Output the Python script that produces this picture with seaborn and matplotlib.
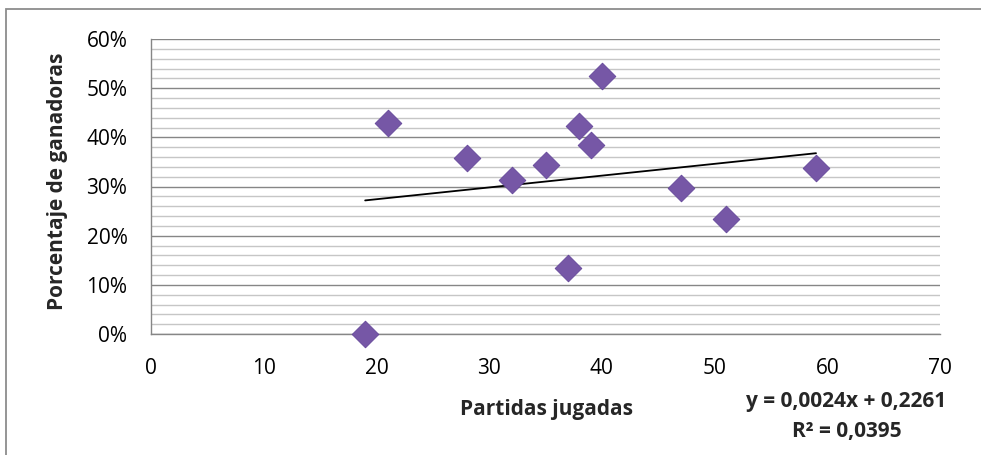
import numpy as np
import pandas as pd
import matplotlib
matplotlib.use("Agg")
import matplotlib.pyplot as plt
from matplotlib.patches import Rectangle
from matplotlib.ticker import MultipleLocator, PercentFormatter
import seaborn as sns

# Data
partidas = [19, 21, 28, 32, 35, 37, 38, 39, 40, 47, 51, 59]
porcentaje = [0.000, 0.429, 0.358, 0.313, 0.344, 0.134, 0.423, 0.384, 0.525, 0.297, 0.233, 0.338]
slope = 0.0024
intercept = 0.2261
r2 = 0.0395
x_ticks = [0, 10, 20, 30, 40, 50, 60, 70]
y_ticks = [0, 0.1, 0.2, 0.3, 0.4, 0.5, 0.6]

df = pd.DataFrame({"Partidas jugadas": partidas, "Porcentaje de ganadoras": porcentaje})

sns.set_style("white")
plt.rcParams["font.family"] = ["Open Sans", "DejaVu Sans"]

W, H = 981, 455
fig = plt.figure(figsize=(W / 100, H / 100), dpi=100)
ax = fig.add_axes([151 / W, 1 - 334 / H, (940 - 151) / W, (334 - 39) / H])

# outer border (only top and left edges fall inside the picture)
fig.patches.append(Rectangle((6 / W, -0.05), 1.2, 1 - 9 / H + 0.05, transform=fig.transFigure,
                             fill=False, edgecolor="#8c8c8c", linewidth=1.3))

# grid
ax.yaxis.set_minor_locator(MultipleLocator(0.02))
ax.grid(which="minor", axis="y", color="#c6c6c6", linewidth=1.0, zorder=0)
ax.grid(which="major", axis="y", color="#868686", linewidth=1.0, zorder=0)
ax.set_axisbelow(True)

# trend line over data range
xs = np.array([min(partidas), max(partidas)])
ax.plot(xs, slope * xs + intercept, color="black", linewidth=1.3, zorder=2)

sns.scatterplot(data=df, x="Partidas jugadas", y="Porcentaje de ganadoras", ax=ax,
                marker="D", s=185, color="#7657a6", edgecolor="#64479a", linewidth=0.6,
                zorder=3, clip_on=False)

ax.set_xlim(0, 70)
ax.set_ylim(0, 0.6)
ax.set_xticks(x_ticks)
ax.set_yticks(y_ticks)
ax.yaxis.set_major_formatter(PercentFormatter(1.0, decimals=0))
ax.tick_params(axis="both", which="major", labelsize=15, length=6, width=1.0,
               color="#868686", direction="out", labelcolor="black")
ax.tick_params(axis="y", which="minor", length=0)
ax.tick_params(axis="x", pad=11)
ax.tick_params(axis="y", pad=11)

for s in ["top", "right"]:
    ax.spines[s].set_visible(False)
for s in ["left", "bottom"]:
    ax.spines[s].set_color("#868686")
    ax.spines[s].set_linewidth(1.0)

ax.set_xlabel("")
ax.set_ylabel("")
fig.text(58 / W, 1 - 181 / H, "Porcentaje de ganadoras", fontsize=15, fontweight="bold",
         rotation=90, ha="center", va="center")
fig.text(546 / W, 1 - 410 / H, "Partidas jugadas", fontsize=15, fontweight="bold",
         ha="center", va="center")
fig.text(846 / W, 1 - 402 / H, f"y = {slope:.4f}x + {intercept:.4f}".replace(".", ","),
         fontsize=15, fontweight="bold", ha="center", va="center")
fig.text(847 / W, 1 - 432 / H, f"R² = {r2:.4f}".replace(".", ","),
         fontsize=15, fontweight="bold", ha="center", va="center")

fig.savefig("out.png", dpi=100)
